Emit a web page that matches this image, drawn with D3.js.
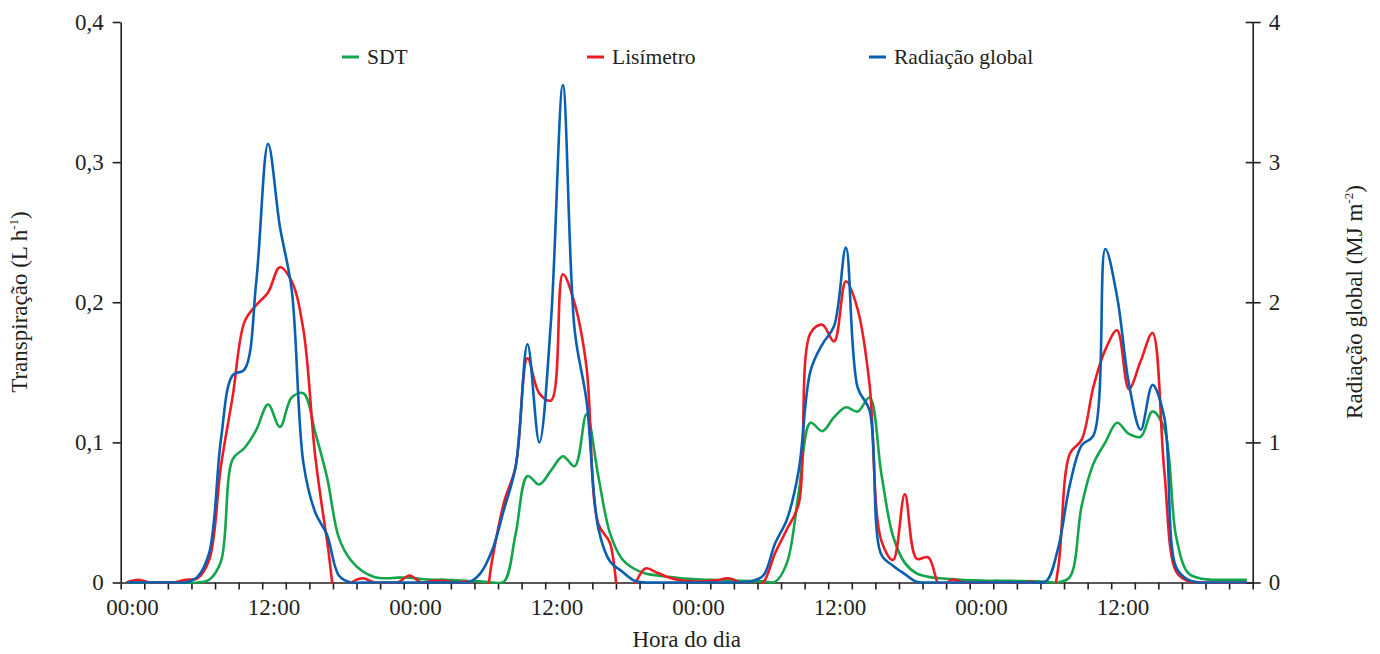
<!DOCTYPE html>
<html>
<head>
<meta charset="utf-8">
<script src="https://cdn.jsdelivr.net/npm/d3@7"></script>
<style>
  body { margin: 0; background: #fff; }
  text { font-family: "Liberation Serif", "Times New Roman", serif; fill: #231f20; }
</style>
</head>
<body>
<svg id="chart" width="1380" height="654"></svg>
<script>
// Hourly records over four days (value for each hour, plotted at the hour's centre)
const hourLabels = ["00:00", "12:00", "00:00", "12:00", "00:00", "12:00", "00:00", "12:00"];

// SDT transpiration (L h-1)
const sdt = [
  0, 0, 0, 0, 0, 0, 0, 0.002, 0.015, 0.088, 0.096, 0.109, 0.127, 0.111, 0.132, 0.135,
  0.107, 0.075, 0.032, 0.016, 0.008, 0.004, 0.003, 0.0035, 0.0035, 0.0025, 0.002, 0.002, 0.0015, 0.001, 0.0008, 0,
  0.0005, 0.035, 0.076, 0.070, 0.080, 0.090, 0.083, 0.120, 0.076, 0.035, 0.017, 0.010, 0.0065, 0.005, 0.004, 0.003,
  0.0025, 0.002, 0.0018, 0.0015, 0.0012, 0.001, 0.0008, 0.0005, 0.014, 0.064, 0.114, 0.108, 0.118, 0.125, 0.122, 0.132,
  0.078, 0.033, 0.014, 0.0065, 0.004, 0.003, 0.0025, 0.0018, 0.0015, 0.0013, 0.0013, 0.0012, 0.001, 0.0008, 0.0005, 0,
  0.004, 0.055, 0.085, 0.100, 0.114, 0.106, 0.104, 0.122, 0.110, 0.033, 0.007, 0.003, 0.002, 0.002, 0.002, 0.002
];

// Weighing lysimeter transpiration (L h-1)
const lisimetro = [
  0, 0.002, 0, 0, 0, 0.002, 0.003, 0.016, 0.083, 0.133, 0.186, 0.198, 0.207, 0.225, 0.215, 0.180,
  0.090, 0.030, -0.020, -0.001, 0.003, 0, 0, 0, 0.005, 0, 0.0012, 0.001, 0, 0, -0.035, 0.016,
  0.057, 0.083, 0.160, 0.135, 0.130, 0.220, 0.199, 0.154, 0.042, 0.028, -0.020, -0.003, 0.010, 0.007, 0.0035, 0.0015,
  0.0008, 0.0008, 0.0015, 0.003, 0, -0.005, 0, 0.021, 0.038, 0.056, 0.178, 0.184, 0.172, 0.215, 0.195, 0.142,
  0.030, 0.016, 0.063, 0.017, 0.018, -0.003, 0.002, 0, 0, 0, 0, 0, 0, 0, -0.030, 0.010,
  0.092, 0.102, 0.140, 0.166, 0.180, 0.138, 0.158, 0.178, 0.080, 0.008, 0.001, 0, 0, 0, 0, 0
];

// Global radiation (MJ m-2)
const radiacao = [
  0, 0, 0, 0, 0, 0, 0.04, 0.21, 1.02, 1.48, 1.52, 2.15, 3.13, 2.54, 2.09, 0.85,
  0.50, 0.34, 0.05, 0, 0, 0, 0, 0, 0, 0, 0, 0, 0, 0, 0.065, 0.23,
  0.52, 0.83, 1.70, 1.00, 1.88, 3.55, 1.80, 1.30, 0.39, 0.15, 0.08, 0.015, 0, 0, 0, 0,
  0, 0, 0, 0, 0, 0.01, 0.05, 0.28, 0.45, 0.80, 1.51, 1.70, 1.83, 2.39, 1.39, 1.23,
  0.20, 0.12, 0.06, 0.005, 0, 0, 0, 0, 0, 0, 0, 0, 0, 0, 0.01, 0.245,
  0.70, 0.98, 1.05, 2.38, 2.04, 1.42, 1.09, 1.41, 1.18, 0.11, 0.02, 0, 0, 0, 0, 0
];

const leftTicks = [0, 0.1, 0.2, 0.3, 0.4];
const rightTicks = [0, 1, 2, 3, 4];

const colors = { sdt: "#12a54b", lis: "#ec1c24", rad: "#0a5fb0" };

const svg = d3.select("#chart");
const W = 1380, H = 654;
const plot = { left: 120.7, right: 1252.7, top: 22, bottom: 582.5 };

svg.append("rect").attr("width", W).attr("height", H).attr("fill", "#fff");

const x = d3.scaleLinear().domain([0, 96]).range([plot.left, plot.right]);
const yL = d3.scaleLinear().domain([0, 0.4]).range([plot.bottom, plot.top]);
const yR = d3.scaleLinear().domain([0, 4]).range([plot.bottom, plot.top]);

// clip so dips below zero are hidden under the axis
svg.append("clipPath").attr("id", "plotClip")
  .append("rect")
  .attr("x", plot.left).attr("y", plot.top - 5)
  .attr("width", plot.right - plot.left)
  .attr("height", plot.bottom - plot.top + 6.2);

const fmtComma = d => d === 0 ? "0" : d3.format(".1f")(d).replace(".", ",");

// Left axis
const gL = svg.append("g").attr("transform", `translate(${plot.left},0)`)
  .call(d3.axisLeft(yL).tickValues(leftTicks).tickFormat(fmtComma).tickSize(8).tickSizeOuter(0).tickPadding(9));
// Right axis (ticks cross the line)
const gR = svg.append("g").attr("transform", `translate(${plot.right},0)`)
  .call(d3.axisRight(yR).tickValues(rightTicks).tickFormat(d3.format("d")).tickSize(8).tickSizeOuter(0).tickPadding(8));
gR.selectAll(".tick line").attr("x1", -7);
// Bottom axis: a tick every 2 h, labels centred in the interval that starts at 00:00 / 12:00
const gB = svg.append("g").attr("transform", `translate(0,${plot.bottom})`)
  .call(d3.axisBottom(x).tickValues(d3.range(0, 97, 2)).tickFormat("").tickSize(7).tickSizeOuter(0));

[gL, gR, gB].forEach(g => {
  g.select(".domain").attr("stroke", "#231f20").attr("stroke-width", 1.6);
  g.selectAll(".tick line").attr("stroke", "#231f20").attr("stroke-width", 1.6);
  g.selectAll(".tick text").attr("font-size", 23).attr("font-family", "Liberation Serif, Times New Roman, serif").attr("fill", "#231f20");
});

svg.append("g").selectAll("text").data(hourLabels).join("text")
  .attr("x", (d, i) => x(i * 12 + 1))
  .attr("y", 615)
  .attr("text-anchor", "middle")
  .attr("font-size", 23)
  .text(d => d);

// Series
const hours = d3.range(96);
const lineL = d3.line().x(i => x(i + 0.5)).curve(d3.curveCatmullRom.alpha(0.5));

const series = [
  { key: "sdt", values: sdt, scale: yL },
  { key: "lis", values: lisimetro, scale: yL },
  { key: "rad", values: radiacao, scale: yR }
];

const gLines = svg.append("g").attr("clip-path", "url(#plotClip)");
series.forEach(s => {
  gLines.append("path")
    .attr("d", lineL.y(i => s.scale(s.values[i]))(hours))
    .attr("fill", "none")
    .attr("stroke", colors[s.key])
    .attr("stroke-width", 2.6)
    .attr("stroke-linejoin", "round");
});

// Axis titles
svg.append("text")
  .attr("transform", "translate(27,302) rotate(-90)")
  .attr("text-anchor", "middle")
  .attr("font-size", 23)
  .call(t => {
    t.append("tspan").text("Transpiração (L h");
    t.append("tspan").attr("font-size", 13).attr("dy", -9).text("-1");
    t.append("tspan").attr("dy", 9).text(")");
  });

svg.append("text")
  .attr("transform", "translate(1362,302) rotate(-90)")
  .attr("text-anchor", "middle")
  .attr("font-size", 23)
  .call(t => {
    t.append("tspan").text("Radiação global (MJ m");
    t.append("tspan").attr("font-size", 13).attr("dy", -9).text("-2");
    t.append("tspan").attr("dy", 9).text(")");
  });

svg.append("text")
  .attr("x", (plot.left + plot.right) / 2)
  .attr("y", 647)
  .attr("text-anchor", "middle")
  .attr("font-size", 23)
  .text("Hora do dia");

// Legend
const legendItems = [
  { label: "SDT", key: "sdt", x: 342 },
  { label: "Lisímetro", key: "lis", x: 587 },
  { label: "Radiação global", key: "rad", x: 869 }
];
const gLeg = svg.append("g");
legendItems.forEach(it => {
  gLeg.append("line")
    .attr("x1", it.x).attr("x2", it.x + 17)
    .attr("y1", 57).attr("y2", 57)
    .attr("stroke", colors[it.key]).attr("stroke-width", 3);
  gLeg.append("text")
    .attr("x", it.x + 25).attr("y", 64)
    .attr("font-size", 21.5)
    .text(it.label);
});
</script>
</body>
</html>
